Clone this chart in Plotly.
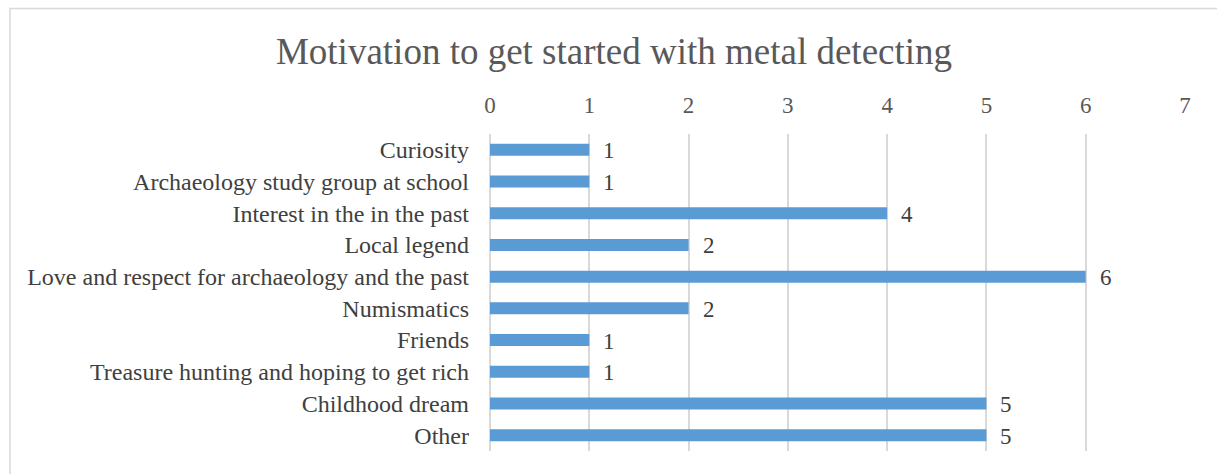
import plotly.graph_objects as go

categories = [
    "Curiosity",
    "Archaeology study group at school",
    "Interest in the in the past",
    "Local legend",
    "Love and respect for archaeology and the past",
    "Numismatics",
    "Friends",
    "Treasure hunting and hoping to get rich",
    "Childhood dream",
    "Other",
]
values = [1, 1, 4, 2, 6, 2, 1, 1, 5, 5]
x_ticks = [0, 1, 2, 3, 4, 5, 6, 7]

W, H = 1217, 474
ml, mr, mt, mb = 490, 32, 134, 23
pw, ph = W - ml - mr, H - mt - mb

font_family = "Liberation Serif, Times New Roman, serif"

fig = go.Figure()
fig.add_trace(go.Bar(
    x=values, y=categories, orientation="h",
    marker=dict(color="#5B9BD5", line=dict(width=0)),
    width=0.38, hoverinfo="x+y",
))

for v, c in zip(values, categories):
    fig.add_annotation(x=v, y=c, text=str(v), showarrow=False,
                       xanchor="left", xshift=12, yshift=-1,
                       font=dict(family=font_family, size=23, color="#404040"))

def px2paper_x(px):
    return (px - ml) / pw

def px2paper_y(py):
    return (H - mb - py) / ph

fig.add_shape(type="rect", xref="paper", yref="paper",
              x0=px2paper_x(10), x1=px2paper_x(1230),
              y0=px2paper_y(490), y1=px2paper_y(8.5),
              line=dict(color="#D9D9D9", width=1.5), fillcolor="rgba(0,0,0,0)",
              layer="below")

fig.update_layout(
    width=W, height=H,
    margin=dict(l=ml, r=mr, t=mt, b=mb, pad=0),
    paper_bgcolor="white", plot_bgcolor="white",
    showlegend=False,
    title=dict(text="Motivation to get started with metal detecting",
               x=614 / W, xanchor="center", y=1 - 51 / H, yanchor="middle",
               font=dict(family=font_family, size=37, color="#595959")),
    xaxis=dict(side="top", range=[0, 7], tickvals=x_ticks,
               showgrid=True, gridcolor="#D9D9D9", gridwidth=1.5,
               zeroline=True, zerolinecolor="#D9D9D9", zerolinewidth=1.5,
               showline=False, ticks="", ticklabelstandoff=15,
               tickfont=dict(family=font_family, size=23, color="#595959"),
               fixedrange=True),
    yaxis=dict(categoryorder="array", categoryarray=categories,
               autorange="reversed", showgrid=False, zeroline=False,
               showline=False, ticks="", ticklabelstandoff=20,
               tickfont=dict(family=font_family, size=24, color="#404040"),
               fixedrange=True),
)

fig.write_html("out.html")
